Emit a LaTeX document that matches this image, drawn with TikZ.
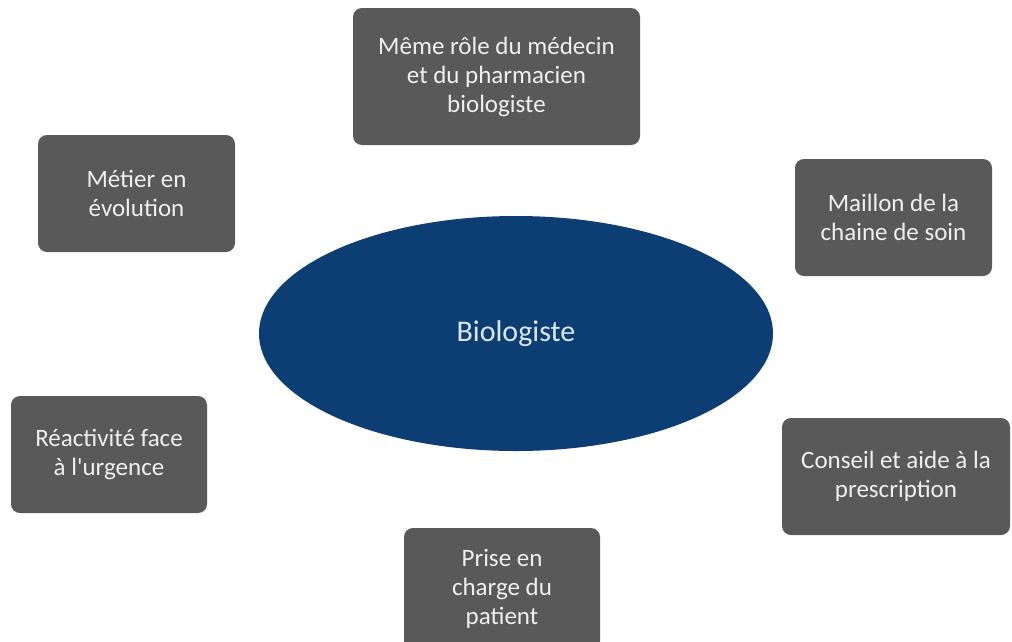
\documentclass[tikz,border=0pt]{standalone}
\usepackage{fontspec}
\setmainfont{Carlito}
\usetikzlibrary{shapes.geometric}
\definecolor{boxgray}{HTML}{595959}
\definecolor{navy}{HTML}{0C3D73}
\definecolor{boxtext}{HTML}{EFEFEF}
\definecolor{elltext}{HTML}{DCE8F2}
\begin{document}
\begin{tikzpicture}[x=1pt,y=-1pt,
  card/.style={rectangle, rounded corners=9pt, fill=boxgray, text=boxtext,
    align=center, inner sep=0pt, font=\fontsize{25}{29}\selectfont},
  hub/.style={ellipse, fill=navy, text=elltext, inner sep=0pt,
    minimum width=514pt, minimum height=235pt, font=\fontsize{30}{34}\selectfont}]
\useasboundingbox (0,0) rectangle (1012,641);
\clip (0,0) rectangle (1012,641);
\fill[white] (0,0) rectangle (1012,641);
\node[hub] (bio) at (516,333.5) {Biologiste};
\node[card, minimum width=287pt, minimum height=137pt] (role) at (496.5,76.5)
  {Même rôle du médecin\\et du pharmacien\\biologiste};
\node[card, minimum width=197pt, minimum height=117pt] (metier) at (136.5,193.5)
  {Métier en\\évolution};
\node[card, minimum width=197pt, minimum height=117pt] (maillon) at (893.5,217.5)
  {Maillon de la\\chaine de soin};
\node[card, minimum width=196pt, minimum height=117pt] (reac) at (109,454.5)
  {Réactivité face\\à l\textquotesingle urgence};
\node[card, minimum width=228pt, minimum height=117pt] (conseil) at (896,476.5)
  {Conseil et aide à la\\prescription};
\node[card, minimum width=196pt, minimum height=122pt] (prise) at (502,589)
  {Prise en\\charge du\\patient};
\end{tikzpicture}
\end{document}
